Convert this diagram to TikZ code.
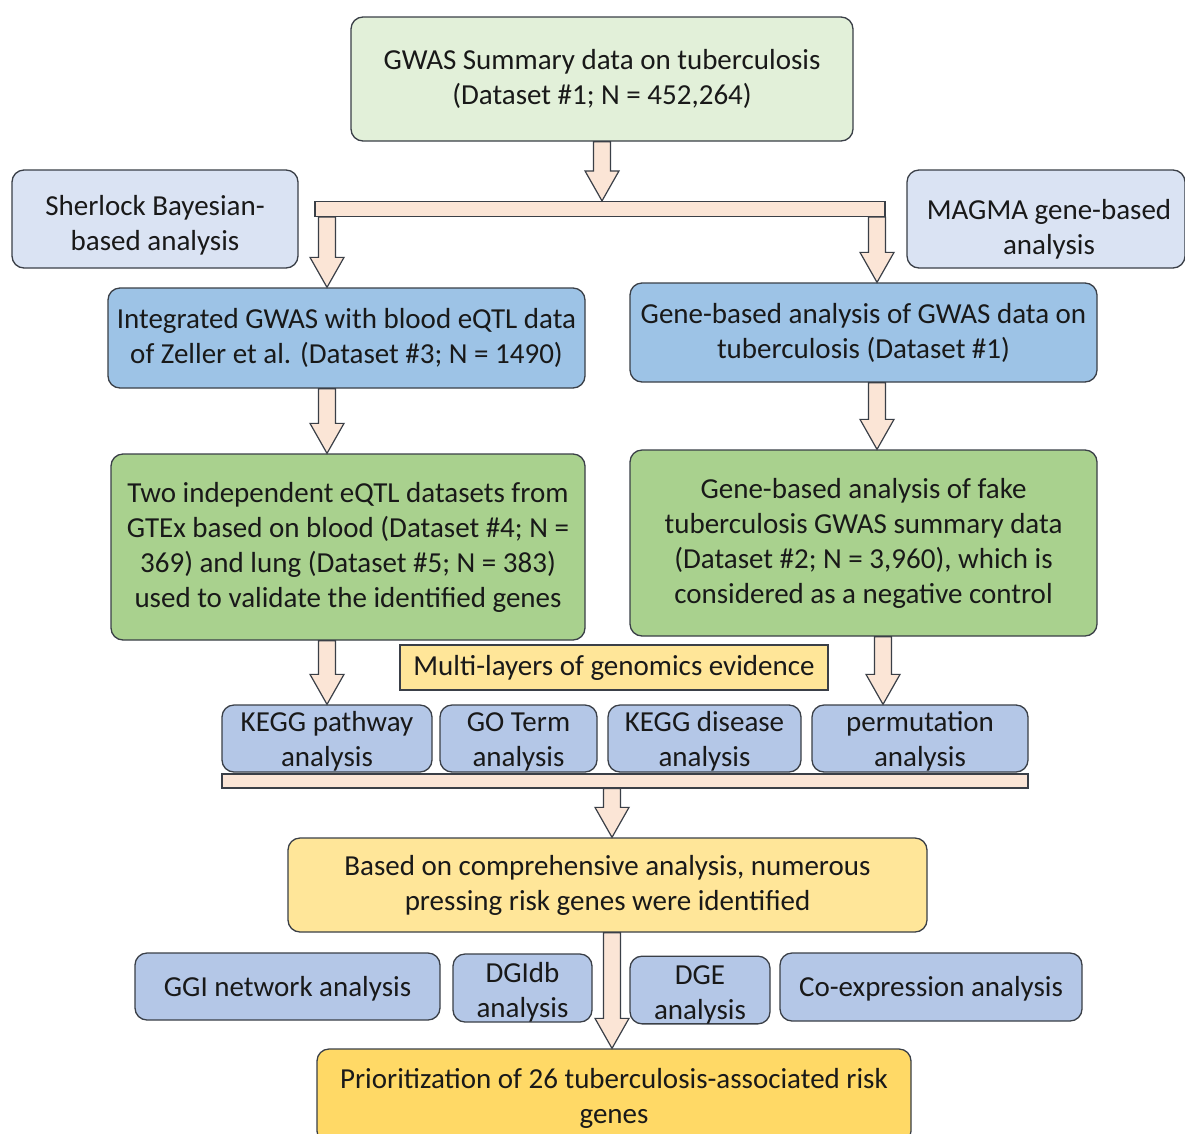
\documentclass[tikz,border=0pt]{standalone}
\usepackage{fontspec}
\setmainfont{Carlito}
\usetikzlibrary{calc}
\definecolor{cTop}{HTML}{E2F0D9}
\definecolor{cLight}{HTML}{DAE3F3}
\definecolor{cMed}{HTML}{9DC3E6}
\definecolor{cGreen}{HTML}{A9D18E}
\definecolor{cPale}{HTML}{FFE699}
\definecolor{cRow}{HTML}{B4C7E7}
\definecolor{cGold}{HTML}{FFD966}
\definecolor{cArrow}{HTML}{FBE5D6}
\definecolor{cLine}{HTML}{3A3F47}
\newcommand{\barrow}[2]{%
  \path[blockarrow] let \p1=(#1), \p2=(#2) in
    (\x1-8.5pt,\y1) -- (\x1+8.5pt,\y1) -- (\x1+8.5pt,\y2+30pt) -- (\x1+17pt,\y2+30pt)
    -- (\x1,\y2) -- (\x1-17pt,\y2+30pt) -- (\x1-8.5pt,\y2+30pt) -- cycle;}
\newcommand{\lift}[1]{\rule{0pt}{#1pt}}
\begin{document}
\begin{tikzpicture}[x=1pt,y=-1pt,
  box/.style={draw=cLine, line width=1.3pt, rounded corners=12pt, align=center,
    inner sep=0pt, font=\fontsize{29}{35}\selectfont, text=black!90},
  sqbox/.style={draw=cLine, line width=1.3pt, align=center, inner sep=0pt,
    font=\fontsize{29}{35}\selectfont, text=black!90},
  bar/.style={draw=cLine, line width=1.2pt, fill=cArrow, inner sep=0pt},
  blockarrow/.style={draw=cLine, line width=1.2pt, fill=cArrow, line join=miter}]
\clip (0,0) rectangle (1185,1133);
\fill[white] (0,0) rectangle (1185,1133);

% top
\node[box, fill=cTop, minimum width=502pt, minimum height=124pt] (top) at (602,79)
  {GWAS Summary data on tuberculosis\\(Dataset \#1; N = 452,264)};
\node[box, fill=cLight, minimum width=286pt, minimum height=98pt] (sher) at (155,219)
  {\lift{32}Sherlock Bayesian-\\based analysis};
\node[box, fill=cLight, minimum width=278pt, minimum height=98pt] (magma) at (1046,219)
  {\lift{40}\hspace*{6pt}MAGMA gene-based\\\hspace*{6pt}analysis};
\node[bar, minimum width=570pt, minimum height=15pt] (bar1) at (600,209) {};

% blue
\node[box, fill=cMed, minimum width=477pt, minimum height=100pt] (blueL) at (346.5,338)
  {Integrated GWAS with blood eQTL data\\of Zeller et al. (Dataset \#3; N = 1490)};
\node[box, fill=cMed, minimum width=467pt, minimum height=99pt] (blueR) at (863.5,332.5)
  {Gene-based analysis of GWAS data on\\tuberculosis (Dataset \#1)};

% green
\node[box, fill=cGreen, minimum width=474pt, minimum height=186pt] (greenL) at (348,547)
  {Two independent eQTL datasets from\\GTEx based on blood (Dataset \#4; N =\\369) and lung (Dataset \#5; N = 383)\\used to validate the identified genes};
\node[box, fill=cGreen, minimum width=467pt, minimum height=186pt] (greenR) at (863.5,543)
  {Gene-based analysis of fake\\tuberculosis GWAS summary data\\(Dataset \#2; N = 3,960), which is\\considered as a negative control};

% multi
\node[sqbox, fill=cPale, minimum width=428pt, minimum height=45pt] (multi) at (614,667.5)
  {Multi-layers of genomics evidence};

% row
\node[box, fill=cRow, minimum width=210pt, minimum height=67pt] (kp) at (327,738.5)
  {\lift{26}KEGG pathway\\analysis};
\node[box, fill=cRow, minimum width=157pt, minimum height=67pt] (go) at (518.5,738.5)
  {\lift{26}GO Term\\analysis};
\node[box, fill=cRow, minimum width=193pt, minimum height=67pt] (kd) at (704.5,738.5)
  {\lift{26}KEGG disease\\analysis};
\node[box, fill=cRow, minimum width=216pt, minimum height=67pt] (perm) at (920,738.5)
  {\lift{26}permutation\\analysis};
\node[bar, minimum width=806pt, minimum height=14pt] (bar2) at (625,781) {};

% yellow
\node[box, fill=cPale, minimum width=639pt, minimum height=94pt] (yel) at (607.5,885)
  {Based on comprehensive analysis, numerous\\pressing risk genes were identified};

% bottom row
\node[box, fill=cRow, minimum width=305pt, minimum height=67pt] (ggi) at (287.5,986.5)
  {\lift{24}GGI network analysis};
\node[box, fill=cRow, minimum width=139pt, minimum height=68pt] (dgidb) at (522.5,988)
  {\lift{28}DGIdb\\analysis};
\node[box, fill=cRow, minimum width=140pt, minimum height=66pt] (dge) at (700,990)
  {\lift{28}DGE\\analysis};
\node[box, fill=cRow, minimum width=302pt, minimum height=68pt] (coexp) at (931,987)
  {\lift{24}Co-expression analysis};

% final
\node[box, fill=cGold, minimum width=594pt, minimum height=94pt, text depth=0pt] (final) at (614,1096)
  {Prioritization of 26 tuberculosis-associated risk\\genes};

% arrow positions
\coordinate (xa) at (327,0);
\coordinate (xb) at (877,0);
\coordinate (xc) at (883,0);
\coordinate (xd) at (612,0);

\barrow{top.south}{bar1.north -| top.south}
\barrow{bar1.south -| xa}{blueL.north -| xa}
\barrow{bar1.south -| xb}{blueR.north -| xb}
\barrow{blueL.south -| xa}{greenL.north -| xa}
\barrow{blueR.south -| xb}{greenR.north -| xb}
\barrow{greenL.south -| xa}{kp.north -| xa}
\barrow{greenR.south -| xc}{perm.north -| xc}
\barrow{bar2.south -| xd}{yel.north -| xd}
\barrow{yel.south -| xd}{final.north -| xd}
\end{tikzpicture}
\end{document}
